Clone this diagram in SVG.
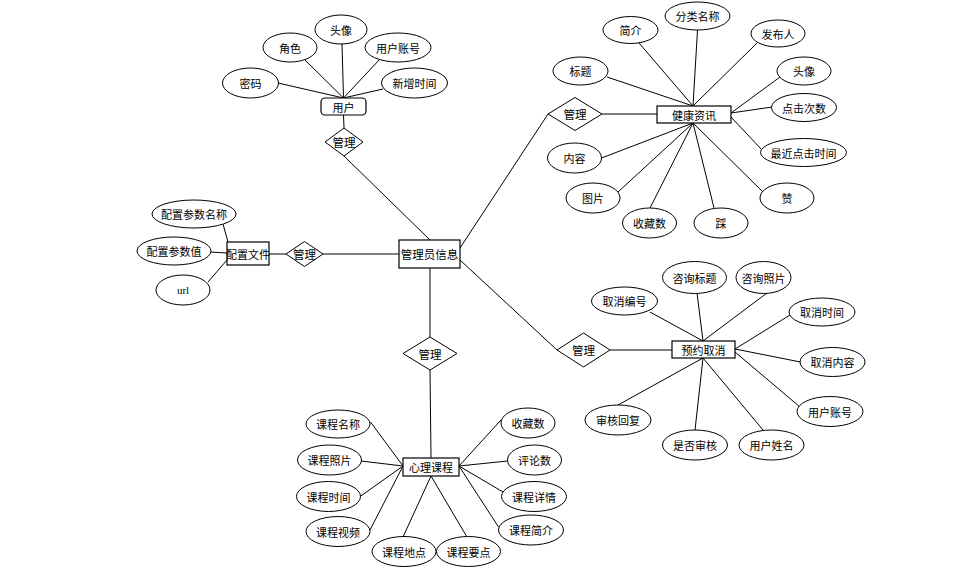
<svg xmlns="http://www.w3.org/2000/svg" width="967" height="572" viewBox="0 0 967 572">
<style>
.e{fill:#fff;stroke:#000;stroke-width:1}
.r{fill:#fff;stroke:#000;stroke-width:1.2}
.d{fill:#fff;stroke:#000;stroke-width:1}
.c line{stroke:#000;stroke-width:1;fill:none}
text{font-family:"Noto Sans CJK SC","Liberation Sans",sans-serif;font-size:11px;fill:#000;text-anchor:middle;dominant-baseline:central}
.b{font-size:11.5px}
.s{font-family:"Liberation Serif",serif}
</style>
<rect width="967" height="572" fill="#fff"/>
<g class="c" id="connectors">
<line x1="342" y1="44" x2="343.5" y2="98"/>
<line x1="305" y1="60" x2="343.5" y2="98"/>
<line x1="380" y1="59" x2="343.5" y2="98"/>
<line x1="278" y1="83" x2="343.5" y2="98"/>
<line x1="383" y1="89" x2="343.5" y2="98"/>
<line x1="343.5" y1="115" x2="344" y2="128"/>
<line x1="344" y1="156" x2="430" y2="240"/>
<line x1="223" y1="224" x2="228" y2="242"/>
<line x1="210" y1="252" x2="227" y2="253"/>
<line x1="208" y1="282" x2="227" y2="260"/>
<line x1="269" y1="254" x2="286" y2="254"/>
<line x1="323" y1="254" x2="399" y2="254"/>
<line x1="460" y1="248" x2="548" y2="114"/>
<line x1="602" y1="114" x2="657" y2="114"/>
<line x1="607" y1="77" x2="693" y2="106"/>
<line x1="639" y1="43" x2="693" y2="106"/>
<line x1="697.5" y1="30" x2="693" y2="106"/>
<line x1="757" y1="43" x2="693" y2="106"/>
<line x1="780" y1="77" x2="731" y2="113"/>
<line x1="772" y1="107" x2="731" y2="113"/>
<line x1="762" y1="150" x2="731" y2="117"/>
<line x1="601.5" y1="158" x2="693" y2="123"/>
<line x1="618" y1="192" x2="693" y2="123"/>
<line x1="650" y1="208" x2="693" y2="123"/>
<line x1="714" y1="208" x2="693" y2="123"/>
<line x1="763" y1="192" x2="693" y2="123"/>
<line x1="460" y1="260" x2="557" y2="350"/>
<line x1="610" y1="350" x2="672" y2="350"/>
<line x1="650" y1="312" x2="703" y2="341"/>
<line x1="697" y1="293" x2="703" y2="341"/>
<line x1="767" y1="293" x2="703" y2="341"/>
<line x1="790" y1="315" x2="735" y2="349"/>
<line x1="800.5" y1="362" x2="735" y2="349"/>
<line x1="800" y1="407" x2="735" y2="352"/>
<line x1="618" y1="405" x2="703" y2="358"/>
<line x1="695" y1="430" x2="703" y2="358"/>
<line x1="763" y1="430" x2="703" y2="358"/>
<line x1="430" y1="268" x2="430" y2="337"/>
<line x1="430" y1="370" x2="431" y2="458"/>
<line x1="370.5" y1="422" x2="403" y2="466"/>
<line x1="361" y1="461" x2="403" y2="466"/>
<line x1="358" y1="498" x2="403" y2="466"/>
<line x1="370" y1="530" x2="403" y2="466"/>
<line x1="403" y1="537" x2="431" y2="476"/>
<line x1="467" y1="537" x2="431" y2="476"/>
<line x1="501" y1="420" x2="459" y2="466"/>
<line x1="507.5" y1="461" x2="459" y2="466"/>
<line x1="503" y1="492" x2="459" y2="466"/>
<line x1="498.5" y1="527" x2="459" y2="466"/>
</g>
<g id="admin"><rect class="r" x="399" y="240" width="61" height="28"/><text class="b" x="429.5" y="254">管理员信息</text></g>
<g id="user"><rect class="r" x="321" y="98" width="45" height="17" rx="4"/><text x="343.5" y="106.5">用户</text></g>
<g id="user-avatar"><ellipse class="e" cx="341" cy="29.5" rx="26" ry="14.5"/><text x="341" y="29.5">头像</text></g>
<g id="user-role"><ellipse class="e" cx="290" cy="47.5" rx="27" ry="14.5"/><text x="290" y="47.5">角色</text></g>
<g id="user-account"><ellipse class="e" cx="398" cy="47.5" rx="33" ry="14.5"/><text x="398" y="47.5">用户账号</text></g>
<g id="user-pwd"><ellipse class="e" cx="250.5" cy="83" rx="28" ry="15"/><text x="250.5" y="83">密码</text></g>
<g id="user-time"><ellipse class="e" cx="414.5" cy="83" rx="33" ry="15"/><text x="414.5" y="83">新增时间</text></g>
<g id="rel-user"><polygon class="d" points="325,142 344,128 363,142 344,156"/><text class="b" x="344" y="142">管理</text></g>
<g id="config"><rect class="r" x="227" y="242" width="42" height="23"/><text x="248" y="253.5">配置文件</text></g>
<g id="config-name"><ellipse class="e" cx="194" cy="214" rx="42" ry="14"/><text x="194" y="214">配置参数名称</text></g>
<g id="config-value"><ellipse class="e" cx="174" cy="251" rx="37" ry="14"/><text x="174" y="251">配置参数值</text></g>
<g id="config-url"><ellipse class="e" cx="183" cy="290" rx="27" ry="15"/><text class="s" x="183" y="290">url</text></g>
<g id="rel-config"><polygon class="d" points="286,254 304.5,241.5 323,254 304.5,266.5"/><text class="b" x="304.5" y="254">管理</text></g>
<g id="health"><rect class="r" x="657" y="106" width="74" height="17"/><text x="694" y="114.5">健康资讯</text></g>
<g id="rel-health"><polygon class="d" points="548,114 575,97.5 602,114 575,130.5"/><text class="b" x="575" y="114">管理</text></g>
<g id="h-intro"><ellipse class="e" cx="630.5" cy="30" rx="27.5" ry="13.5"/><text x="630.5" y="30">简介</text></g>
<g id="h-cat"><ellipse class="e" cx="697.5" cy="16" rx="32.5" ry="14"/><text x="697.5" y="16">分类名称</text></g>
<g id="h-pub"><ellipse class="e" cx="778" cy="33.5" rx="27" ry="13.5"/><text x="778" y="33.5">发布人</text></g>
<g id="h-title"><ellipse class="e" cx="580.5" cy="71" rx="27.5" ry="14"/><text x="580.5" y="71">标题</text></g>
<g id="h-avatar"><ellipse class="e" cx="804" cy="71" rx="27" ry="14"/><text x="804" y="71">头像</text></g>
<g id="h-clicks"><ellipse class="e" cx="804" cy="107.5" rx="32.5" ry="14"/><text x="804" y="107.5">点击次数</text></g>
<g id="h-last"><ellipse class="e" cx="803.5" cy="152.5" rx="43" ry="14"/><text x="803.5" y="152.5">最近点击时间</text></g>
<g id="h-content"><ellipse class="e" cx="574.5" cy="158" rx="27" ry="15"/><text x="574.5" y="158">内容</text></g>
<g id="h-pic"><ellipse class="e" cx="593" cy="198" rx="27" ry="15"/><text x="593" y="198">图片</text></g>
<g id="h-fav"><ellipse class="e" cx="649.5" cy="223" rx="27" ry="15"/><text x="649.5" y="223">收藏数</text></g>
<g id="h-down"><ellipse class="e" cx="721" cy="223" rx="27" ry="15"/><text x="721" y="223">踩</text></g>
<g id="h-up"><ellipse class="e" cx="787" cy="198" rx="27" ry="15"/><text x="787" y="198">赞</text></g>
<g id="cancel"><rect class="r" x="672" y="341" width="63" height="17"/><text x="703.5" y="349.5">预约取消</text></g>
<g id="rel-cancel"><polygon class="d" points="557,350 583.5,333 610,350 583.5,367"/><text class="b" x="583.5" y="350">管理</text></g>
<g id="c-title"><ellipse class="e" cx="694.5" cy="277.5" rx="32" ry="16"/><text x="694.5" y="277.5">咨询标题</text></g>
<g id="c-photo"><ellipse class="e" cx="763.5" cy="277.5" rx="27.5" ry="16"/><text x="763.5" y="277.5">咨询照片</text></g>
<g id="c-no"><ellipse class="e" cx="624.5" cy="301" rx="33" ry="14"/><text x="624.5" y="301">取消编号</text></g>
<g id="c-time"><ellipse class="e" cx="822" cy="312" rx="33" ry="14"/><text x="822" y="312">取消时间</text></g>
<g id="c-content"><ellipse class="e" cx="832.5" cy="362" rx="32.5" ry="14.5"/><text x="832.5" y="362">取消内容</text></g>
<g id="c-reply"><ellipse class="e" cx="618" cy="420" rx="33" ry="15"/><text x="618" y="420">审核回复</text></g>
<g id="c-audited"><ellipse class="e" cx="695" cy="445" rx="32.5" ry="15"/><text x="695" y="445">是否审核</text></g>
<g id="c-uname"><ellipse class="e" cx="771.5" cy="445" rx="32.5" ry="15"/><text x="771.5" y="445">用户姓名</text></g>
<g id="c-uacct"><ellipse class="e" cx="830" cy="411.5" rx="33" ry="15"/><text x="830" y="411.5">用户账号</text></g>
<g id="course"><rect class="r" x="403" y="458" width="56" height="18"/><text x="431" y="467">心理课程</text></g>
<g id="rel-course"><polygon class="d" points="403,353.5 430,337 457,353.5 430,370"/><text class="b" x="430" y="353.5">管理</text></g>
<g id="k-name"><ellipse class="e" cx="338" cy="424" rx="32" ry="14"/><text x="338" y="424">课程名称</text></g>
<g id="k-photo"><ellipse class="e" cx="329.5" cy="460" rx="32" ry="15"/><text x="329.5" y="460">课程照片</text></g>
<g id="k-time"><ellipse class="e" cx="328.5" cy="496.5" rx="32" ry="15"/><text x="328.5" y="496.5">课程时间</text></g>
<g id="k-video"><ellipse class="e" cx="338" cy="531.5" rx="32" ry="15"/><text x="338" y="531.5">课程视频</text></g>
<g id="k-place"><ellipse class="e" cx="404" cy="551.5" rx="32" ry="15"/><text x="404" y="551.5">课程地点</text></g>
<g id="k-key"><ellipse class="e" cx="468.5" cy="551.5" rx="32" ry="15"/><text x="468.5" y="551.5">课程要点</text></g>
<g id="k-fav"><ellipse class="e" cx="528" cy="423" rx="27" ry="15"/><text x="528" y="423">收藏数</text></g>
<g id="k-cmt"><ellipse class="e" cx="534.5" cy="460" rx="27" ry="15"/><text x="534.5" y="460">评论数</text></g>
<g id="k-detail"><ellipse class="e" cx="534" cy="496.5" rx="32.5" ry="15"/><text x="534" y="496.5">课程详情</text></g>
<g id="k-intro"><ellipse class="e" cx="531" cy="530" rx="32.5" ry="15"/><text x="531" y="530">课程简介</text></g>
</svg>
